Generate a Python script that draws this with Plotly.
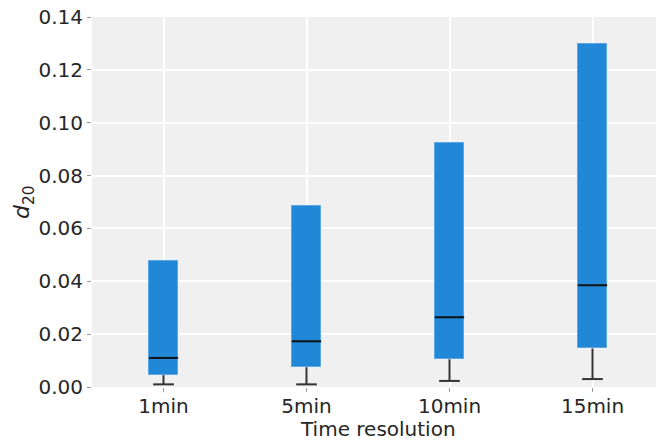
import plotly.graph_objects as go

categories = ["1min", "5min", "10min", "15min"]
lower_whisker = [0.001, 0.001, 0.0023, 0.003]
q1 = [0.0045, 0.0075, 0.0105, 0.0146]
median = [0.011, 0.0173, 0.0264, 0.0385]
q3 = [0.0475, 0.0685, 0.0924, 0.1297]
y_ticks = [0.00, 0.02, 0.04, 0.06, 0.08, 0.10, 0.12, 0.14]

BOX_W = 0.205
CAP_W = 0.145
positions = list(range(len(categories)))

fig = go.Figure()

# whiskers (drawn under the boxes)
wx, wy = [], []
for p, lo, a in zip(positions, lower_whisker, q1):
    wx += [p, p, None, p - CAP_W / 2, p + CAP_W / 2, None]
    wy += [a, lo, None, lo, lo, None]
fig.add_trace(go.Scatter(x=wx, y=wy, mode="lines",
                         line=dict(color="#333333", width=2),
                         hoverinfo="skip", showlegend=False))

# boxes
fig.add_trace(go.Bar(x=positions, y=[b - a for a, b in zip(q1, q3)], base=q1,
                     width=BOX_W, marker=dict(color="#2188d8",
                                              line=dict(color="#5ba6e3", width=1)),
                     showlegend=False))

# medians
mx, my = [], []
for p, m in zip(positions, median):
    mx += [p - BOX_W / 2, p + BOX_W / 2, None]
    my += [m, m, None]
fig.add_trace(go.Scatter(x=mx, y=my, mode="lines",
                         line=dict(color="#111111", width=2),
                         hoverinfo="skip", showlegend=False))

font_family = "DejaVu Sans"
FS = 20
fig.update_layout(
    width=656, height=440, autosize=False,
    margin=dict(l=92, r=0, t=17, b=53),
    plot_bgcolor="#f0f0f0", paper_bgcolor="white",
    font=dict(family=font_family, size=FS, color="#262626"),
    bargap=0,
    xaxis=dict(range=[-0.5, 3.444], tickmode="array", tickvals=positions,
               ticktext=categories, showgrid=True, gridcolor="white", gridwidth=2,
               zeroline=False, ticks="outside", ticklen=4, tickcolor="#999999",
               ticklabelstandoff=-3,
               tickfont=dict(size=FS, color="#262626"), showline=False),
    yaxis=dict(range=[0, 0.14], tickmode="array", tickvals=y_ticks,
               ticktext=[f"{v:.2f}" for v in y_ticks],
               showgrid=True, gridcolor="white", gridwidth=2, zeroline=False,
               ticks="outside", ticklen=4, tickcolor="#999999",
               tickfont=dict(size=FS, color="#262626"), showline=False),
    annotations=[
        dict(text="Time resolution", xref="x", yref="paper", x=1.5, y=0,
             xanchor="center", yanchor="middle", yshift=-42, showarrow=False,
             font=dict(size=FS, color="#262626")),
        dict(text="<i>d</i><sub>20</sub>", xref="paper", yref="paper", x=0, y=0.5,
             xanchor="center", yanchor="middle", xshift=-69, textangle=-90,
             showarrow=False, font=dict(size=22, color="#262626")),
    ],
)

fig.write_html("out.html", config={"displayModeBar": False},
               post_script="document.body.style.margin='0';document.body.style.overflow='hidden';")
